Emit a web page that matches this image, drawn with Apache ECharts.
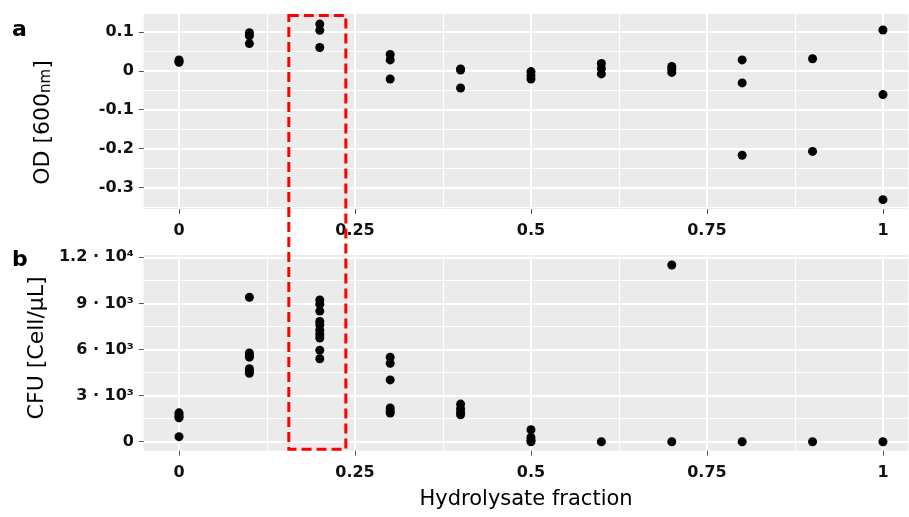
<!DOCTYPE html>
<html>
<head>
<meta charset="utf-8">
<script src="https://cdn.jsdelivr.net/npm/echarts@6/dist/echarts.min.js"></script>
<style>
  html, body { margin: 0; padding: 0; background: #fff; }
  #chart { width: 909px; height: 517px; }
</style>
</head>
<body>
<div id="chart"></div>
<script>
// hydrolysate fractions (x) and the replicate readings at each one
const fractions = [0, 0.1, 0.2, 0.3, 0.4, 0.5, 0.6, 0.7, 0.8, 0.9, 1];
const odReadings = [
  [0.022, 0.025, 0.028],
  [0.098, 0.09, 0.07],
  [0.12, 0.104, 0.06],
  [0.042, 0.028, -0.021],
  [0.005, 0.002, -0.044],
  [-0.002, -0.012, -0.021],
  [0.019, 0.006, -0.008],
  [0.011, 0.004, -0.004],
  [0.028, -0.031, -0.217],
  [0.031, -0.207],
  [0.105, -0.061, -0.331]
];
const cfuReadings = [
  [1880, 1750, 1620, 1560, 330],
  [9400, 5780, 5600, 5500, 4750, 4600, 4450],
  [9220, 8950, 8500, 7820, 7600, 7250, 7000, 6750, 5950, 5400],
  [5500, 5100, 4020, 2200, 2000, 1870],
  [2450, 2150, 1900, 1750],
  [780, 280, 100, 0],
  [0],
  [11500, 0],
  [0],
  [0],
  [0]
];

const xTicks = [0, 0.25, 0.5, 0.75, 1];
const xMinor = [0.125, 0.375, 0.625, 0.875];
const odTicks = [-0.3, -0.2, -0.1, 0, 0.1];
const odMinor = [-0.35, -0.25, -0.15, -0.05, 0.05];
const cfuTicks = [0, 3000, 6000, 9000, 12000];
const cfuTickLabels = ['0', '3 \u00b7 10\u00b3', '6 \u00b7 10\u00b3', '9 \u00b7 10\u00b3', '1.2 \u00b7 10\u2074'];
const cfuMinor = [1500, 4500, 7500, 10500];
const highlight = [0.156, 0.237]; // dashed box around the 0.2 fraction

const xRange = [-0.05, 1.036];   // right side of the panel is cut by the image edge
const odRange = [-0.355, 0.146];
const cfuRange = [-585, 12150];

const toPoints = (readings) =>
  fractions.flatMap((f, i) => readings[i].map(v => [f, v]));

const tickFont = { fontFamily: 'DejaVu Sans', fontWeight: 'bold', fontSize: 16, color: '#111' };
const tickStyle = { length: 5, lineStyle: { color: '#555', width: 1 } };

function mainX(gridIndex) {
  return {
    type: 'value', gridIndex, min: xRange[0], max: xRange[1],
    axisLine: { show: false, onZero: false },
    axisTick: Object.assign({ show: true, customValues: xTicks }, tickStyle),
    axisLabel: Object.assign({ margin: 14, customValues: xTicks, formatter: v => String(v) }, tickFont),
    splitLine: { show: true, lineStyle: { color: '#fff', width: 2 } }
  };
}
function minorX(gridIndex) {
  return {
    type: 'value', gridIndex, min: xRange[0], max: xRange[1],
    axisLine: { show: false, onZero: false },
    axisTick: { show: false, customValues: xMinor },
    axisLabel: { show: false },
    splitLine: { show: true, lineStyle: { color: '#fff', width: 1 } }
  };
}

const grids = [
  { left: 143.8, top: 14, width: 764.5, height: 195, show: true, backgroundColor: '#ebebeb', borderWidth: 0 },
  { left: 143.8, top: 255, width: 764.5, height: 195.7, show: true, backgroundColor: '#ebebeb', borderWidth: 0 }
];

const option = {
  animation: false,
  title: [
    { text: 'a', left: 12, top: 19, padding: 0, textStyle: { fontFamily: 'DejaVu Sans', fontWeight: 'bold', fontSize: 22, color: '#000' } },
    { text: 'b', left: 12, top: 249, padding: 0, textStyle: { fontFamily: 'DejaVu Sans', fontWeight: 'bold', fontSize: 22, color: '#000' } }
  ],
  grid: grids,
  xAxis: [
    mainX(0),
    Object.assign(mainX(1), {
      name: 'Hydrolysate fraction', nameLocation: 'middle', nameGap: 38,
      nameTextStyle: { fontFamily: 'DejaVu Sans', fontSize: 21, color: '#000' }
    }),
    minorX(0),
    minorX(1)
  ],
  yAxis: [
    {
      type: 'value', gridIndex: 0, min: odRange[0], max: odRange[1],
      name: 'OD [600{s|nm}]', nameLocation: 'middle', nameGap: 90,
      nameTextStyle: {
        fontFamily: 'DejaVu Sans', fontSize: 22, color: '#000', padding: [0, 22, 0, 0],
        rich: { s: { fontFamily: 'DejaVu Sans', fontSize: 15, color: '#000', verticalAlign: 'bottom' } }
      },
      axisLine: { show: false, onZero: false },
      axisTick: Object.assign({ show: true, customValues: odTicks }, tickStyle),
      axisLabel: Object.assign({ margin: 10, customValues: odTicks, formatter: v => String(Math.round(v * 10) / 10) }, tickFont),
      splitLine: { show: true, lineStyle: { color: '#fff', width: 2 } }
    },
    {
      type: 'value', gridIndex: 1, min: cfuRange[0], max: cfuRange[1],
      name: 'CFU [Cell/\u03bcL]', nameLocation: 'middle', nameGap: 90,
      nameTextStyle: { fontFamily: 'DejaVu Sans', fontSize: 22, color: '#000', padding: [0, 0, 0, 10] },
      axisLine: { show: false, onZero: false },
      axisTick: Object.assign({ show: true, customValues: cfuTicks }, tickStyle),
      axisLabel: Object.assign({
        margin: 10, customValues: cfuTicks,
        formatter: v => cfuTickLabels[cfuTicks.indexOf(Math.round(v))] || ''
      }, tickFont),
      splitLine: { show: true, lineStyle: { color: '#fff', width: 2 } }
    },
    {
      type: 'value', gridIndex: 0, min: odRange[0], max: odRange[1],
      axisLine: { show: false, onZero: false }, axisTick: { show: false, customValues: odMinor }, axisLabel: { show: false },
      splitLine: { show: true, lineStyle: { color: '#fff', width: 1 } }
    },
    {
      type: 'value', gridIndex: 1, min: cfuRange[0], max: cfuRange[1],
      axisLine: { show: false, onZero: false }, axisTick: { show: false, customValues: cfuMinor }, axisLabel: { show: false },
      splitLine: { show: true, lineStyle: { color: '#fff', width: 1 } }
    }
  ],
  series: [
    {
      type: 'scatter', xAxisIndex: 0, yAxisIndex: 0,
      symbolSize: 9, itemStyle: { color: '#000', opacity: 1 },
      data: toPoints(odReadings)
    },
    {
      type: 'scatter', xAxisIndex: 1, yAxisIndex: 1,
      symbolSize: 9, itemStyle: { color: '#000', opacity: 1 },
      data: toPoints(cfuReadings)
    }
  ]
};

const chart = echarts.init(document.getElementById('chart'), null, { renderer: 'canvas' });
chart.setOption(option);

// dashed highlight box spanning both panels
const bx0 = chart.convertToPixel({ xAxisIndex: 0 }, highlight[0]);
const bx1 = chart.convertToPixel({ xAxisIndex: 0 }, highlight[1]);
const byTop = chart.convertToPixel({ yAxisIndex: 0 }, odRange[1]) + 1.5;
const byBot = chart.convertToPixel({ yAxisIndex: 1 }, cfuRange[0]) - 1.5;
chart.setOption({
  graphic: [{
    type: 'rect', z: 100,
    shape: { x: bx0, y: byTop, width: bx1 - bx0, height: byBot - byTop },
    style: { fill: 'none', stroke: '#f00', lineWidth: 3, lineDash: [10, 5] }
  }]
});
</script>
</body>
</html>
